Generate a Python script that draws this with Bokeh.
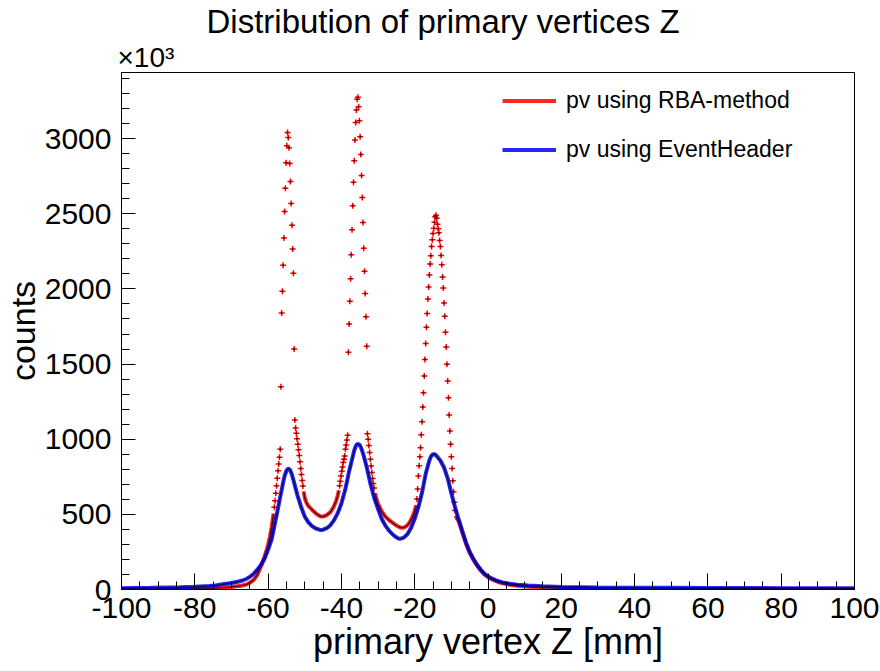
from bokeh.plotting import figure
from bokeh.models import Range1d, SingleIntervalTicker, Legend, LegendItem, Title
from bokeh.embed import file_html
from bokeh.resources import INLINE

FONT = "Liberation Sans"

# ---------------- data (counts in units of 10^3, z in mm) ----------------
# pv using EventHeader (blue)
blue_z = [-100, -96, -92, -88, -84, -80, -76, -74, -72, -70, -68, -67, -66, -65, -64, -63,
          -62, -61, -60, -59, -58.5, -58, -57, -56, -55.5, -55, -54.6, -54, -53.5, -53, -52,
          -51, -50, -49, -48, -47, -46, -45.5, -45, -44, -43, -42, -41, -40, -39, -38.5, -38,
          -37, -36.5, -36, -35.6, -35, -34.5, -34, -33, -32, -31, -30, -29, -28, -27, -26, -25,
          -24.3, -24, -23, -22, -21, -20, -19, -18, -17, -16, -15.5, -15, -14.5, -14, -13, -12,
          -11, -10, -9, -8, -7, -6, -5, -4, -3, -2, -1, 0, 1, 2, 3, 4, 6, 8, 11, 15, 20, 25,
          30, 40, 50, 60, 70, 80, 90, 100]
blue_counts = [9, 10, 11, 13, 15, 18, 24, 29, 36, 43, 53, 60, 70, 84, 103, 130,
               162, 205, 265, 335, 395, 455, 578, 700, 755, 790, 805, 795, 765, 720, 628,
               550, 485, 447, 422, 406, 398, 396, 398, 408, 428, 462, 508, 572, 660, 715, 775,
               875, 925, 958, 970, 962, 935, 898, 805, 695, 605, 535, 470, 425, 392, 366, 347,
               337, 337, 345, 368, 410, 470, 548, 645, 770, 858, 888, 900, 900, 888, 858, 812,
               740, 640, 548, 466, 388, 312, 250, 205, 165, 133, 106, 88, 74, 63, 54, 47, 38, 32, 26, 21, 17, 15,
               13, 12, 11, 10, 10, 9, 9, 8]

# pv using RBA-method (red): smooth stretches ...
red_tail_left_z = [-100, -90, -80, -76, -72, -70, -68, -67, -66, -65, -64, -63, -62, -61,
                   -60.3, -60, -59.5, -59, -58.5]
red_tail_left_counts = [2, 3, 5, 7, 13, 17, 23, 27, 33, 44, 62, 95, 150, 215,
                        272, 300, 352, 420, 505]
red_valley1_z = [-50.3, -50, -49.5, -49, -48.5, -48, -47, -46, -45.5, -45, -44, -43, -42.2,
                 -41.5, -41, -40.7]
red_valley1_counts = [652, 610, 575, 555, 543, 530, 507, 490, 485, 485, 495, 515, 546,
                      585, 625, 660]
red_valley2_z = [-30.8, -30.4, -30, -29, -28, -27, -26, -25, -24, -23.5, -23, -22.5, -22,
                 -21.5, -21, -20.5, -20, -19.6]
red_valley2_counts = [640, 600, 570, 520, 485, 462, 443, 426, 413, 410, 412, 418, 428,
                      443, 463, 490, 525, 560]
red_tail_right_z = [-8.8, -8.5, -8, -7, -6, -5, -4, -3, -2, -1, 0, 1, 2, 3, 4, 6, 8, 11,
                    15, 20, 30, 40, 60, 80, 100]
red_tail_right_counts = [490, 472, 455, 378, 305, 244, 198, 159, 127, 100, 82, 68, 57, 48,
                         41, 31, 25, 18, 13, 9, 6, 5, 4, 3, 3]

# ... and the steep bins around the three peaks (0.2 mm bins)
red_peak1_z = [-58.3, -58.1, -57.9, -57.7, -57.5, -57.3, -57.1, -56.9, -56.7, -56.5,
               -56.3, -56.1, -55.9, -55.7, -55.5, -55.3, -55.1, -54.9, -54.7, -54.5,
               -54.3, -54.1, -53.9, -53.7, -53.5, -53.3, -53.1, -52.9, -52.7, -52.5,
               -52.3, -52.1, -51.9, -51.7, -51.5, -51.3, -51.1, -50.9, -50.7, -50.5]
red_peak1_counts = [548, 590, 640, 690, 740, 790, 835, 880, 934, 1349,
                    1840, 1985, 2157, 2338, 2515, 2670, 2840, 2953, 3040, 3008,
                    2940, 2835, 2714, 2568, 2424, 2265, 2105, 1601, 1128, 1075,
                    1040, 1003, 967, 930, 892, 850, 805, 765, 725, 688]
red_peak2_z = [-40.5, -40.3, -40.1, -39.9, -39.7, -39.5, -39.3, -39.1, -38.9, -38.7,
               -38.5, -38.3, -38.1, -37.9, -37.7, -37.5, -37.3, -37.1, -36.9, -36.7,
               -36.5, -36.3, -36.1, -35.9, -35.7, -35.5, -35.3, -35.1, -34.9, -34.7,
               -34.5, -34.3, -34.1, -33.9, -33.7, -33.5, -33.3, -33.1, -32.9, -32.7,
               -32.5, -32.3, -32.1, -31.9, -31.7, -31.5, -31.3, -31.1]
red_peak2_counts = [690, 720, 756, 786, 815, 845, 867, 889, 934, 962,
                    994, 1027, 1579, 1767, 1918, 2068, 2228, 2394, 2553, 2709,
                    2853, 2991, 3108, 3190, 3262, 3275, 3212, 3119, 3013, 2895,
                    2754, 2608, 2442, 2271, 2117, 1969, 1814, 1619, 1037, 1000,
                    958, 912, 866, 822, 778, 738, 705, 675]
red_peak3_z = [-19.4, -19.2, -19.0, -18.8, -18.6, -18.4, -18.2, -18.0, -17.8, -17.6, -17.4,
               -17.2, -17.0, -16.8, -16.6, -16.4, -16.2, -16.0, -15.8, -15.6, -15.4, -15.2,
               -15.0, -14.8, -14.6, -14.4, -14.2, -14.0, -13.8, -13.6, -13.4, -13.2, -13.0,
               -12.8, -12.6, -12.4, -12.2, -12.0, -11.8, -11.6, -11.4, -11.2, -11.0, -10.8,
               -10.6, -10.4, -10.2, -10.0, -9.8, -9.6, -9.4, -9.2, -9.0]
red_peak3_counts = [602, 668, 756, 823, 883, 944, 1029, 1117, 1214, 1309, 1420,
                    1531, 1637, 1745, 1836, 1933, 2013, 2092, 2165, 2221, 2283, 2327,
                    2369, 2404, 2444, 2480, 2490, 2471, 2431, 2400, 2373, 2322, 2283,
                    2223, 2161, 2079, 2006, 1906, 1818, 1712, 1614, 1498, 1387, 1276,
                    1161, 1055, 967, 883, 805, 723, 650, 580, 525]

x_tick_values = [-100, -80, -60, -40, -20, 0, 20, 40, 60, 80, 100]
y_tick_interval = 500
y_max = 3440

# ---------------- figure ----------------
p = figure(width=880, height=671, output_backend="svg", toolbar_location=None,
           x_range=Range1d(-100, 100), y_range=Range1d(0, y_max),
           min_border_left=117, min_border_right=26, min_border_top=71, min_border_bottom=82,
           background_fill_color="white", border_fill_color="white")
p.title = None
p.grid.visible = False
p.outline_line_color = "black"
p.outline_line_width = 1

# exponent marker just above the frame, then the main title above it
p.add_layout(Title(text="×10³", align="left", offset=-4, standoff=0, text_font=FONT,
                   text_font_size="28px", text_font_style="normal", text_color="black"),
             "above")
p.add_layout(Title(text="Distribution of primary vertices Z", align="left", offset=85,
                   standoff=0, text_font=FONT, text_font_size="33px",
                   text_font_style="normal", text_color="black"), "above")

p.xaxis.ticker = SingleIntervalTicker(interval=20, num_minor_ticks=4)
p.yaxis.ticker = SingleIntervalTicker(interval=y_tick_interval, num_minor_ticks=5)
p.xaxis.major_label_overrides = {v: str(v) for v in x_tick_values}
p.xaxis.axis_label = "primary vertex Z [mm]"
p.yaxis.axis_label = "counts"
for ax in (p.xaxis[0], p.yaxis[0]):
    ax.axis_line_color = "black"
    ax.major_tick_line_color = "black"
    ax.minor_tick_line_color = "black"
    ax.major_tick_out = 0
    ax.minor_tick_out = 0
    ax.major_label_text_font = FONT
    ax.major_label_text_font_size = "30px"
    ax.major_label_text_color = "black"
    ax.axis_label_text_font = FONT
    ax.axis_label_text_font_style = "normal"
    ax.axis_label_text_color = "black"
p.xaxis.axis_label_text_font_size = "36px"
p.yaxis.axis_label_text_font_size = "34px"
p.xaxis.major_tick_in = 16
p.xaxis.minor_tick_in = 8
p.yaxis.major_tick_in = 14
p.yaxis.minor_tick_in = 8
p.xaxis.major_label_standoff = 8
p.yaxis.major_label_standoff = 10
p.xaxis.axis_label_standoff = 0
p.yaxis.axis_label_standoff = 0


def band(xs, ys, color):
    r = p.line(xs, ys, line_color=color, line_width=4, line_alpha=0.85)
    p.line(xs, ys, line_color="black", line_width=1.3, line_alpha=0.7)
    return r


def points(xs, ys, color):
    p.scatter(xs, ys, marker="cross", size=6, line_color=color, line_width=1.5)
    p.scatter(xs, ys, marker="square", size=1.6, fill_color="black", fill_alpha=0.8,
              line_color=None)


red_r = band(red_tail_left_z, red_tail_left_counts, "red")
band(red_valley1_z, red_valley1_counts, "red")
band(red_valley2_z, red_valley2_counts, "red")
band(red_tail_right_z, red_tail_right_counts, "red")
points(red_peak1_z, red_peak1_counts, "red")
points(red_peak2_z, red_peak2_counts, "red")
points(red_peak3_z, red_peak3_counts, "red")
blue_r = band(blue_z, blue_counts, "blue")

legend = Legend(items=[LegendItem(label="pv using RBA-method", renderers=[red_r]),
                       LegendItem(label="pv using EventHeader", renderers=[blue_r])],
                location=(381, 426), glyph_width=54, glyph_height=27, label_height=27,
                label_standoff=10, spacing=22, padding=0, margin=0,
                border_line_alpha=0, background_fill_alpha=0,
                label_text_font=FONT, label_text_font_size="23px", label_text_color="black")
p.add_layout(legend)

open("out.html", "w").write(file_html(p, INLINE))
